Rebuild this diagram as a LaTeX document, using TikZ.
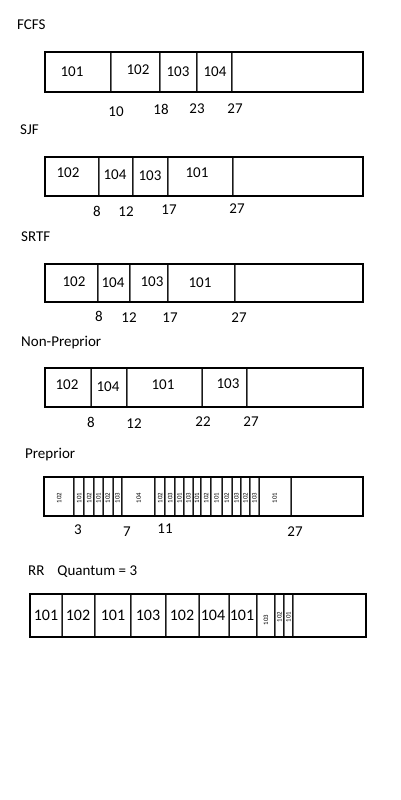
\documentclass[tikz,border=0pt]{standalone}
\usepackage{fontspec}
\setmainfont{Carlito}
\begin{document}
\begin{tikzpicture}[x=1pt,y=-1pt,
  box/.style={draw=black,line width=2.7pt},
  div/.style={draw=black!90,line width=0.7pt,double=black!55,double distance=0.6pt},
  lbl/.style={font=\fontsize{15}{18}\selectfont,inner sep=0pt},
  big/.style={font=\fontsize{16}{19}\selectfont,inner sep=0pt},
  ttl/.style={font=\fontsize{15}{18}\selectfont,inner sep=0pt,anchor=west},
  tiny/.style={font=\fontsize{6.8}{8}\selectfont,inner sep=0pt,rotate=90}]
\fill[white] (0,0) rectangle (400,800);
\useasboundingbox (0,0) rectangle (400,800);

% ---------- FCFS ----------
\node[ttl] (tfcfs) at (17,25) {FCFS};
\foreach \x in {111,160,197,232} \draw[div] (\x,52) -- (\x,92);
\draw[box] (45,52) rectangle (363,92);
\foreach \x/\y/\t [count=\i] in {72/72/101,138/70/102,178/72/103,215/72/104}
  \node[lbl] (fl\i) at (\x,\y) {\t};
\foreach \x/\y/\t [count=\i] in {116/112/10,161/109/18,197/109/23,235/109/27}
  \node[lbl] (fn\i) at (\x,\y) {\t};

% ---------- SJF ----------
\node[ttl] (tsjf) at (20,130) {SJF};
\foreach \x in {99,133,168,233} \draw[div] (\x,157) -- (\x,196);
\draw[box] (45,157) rectangle (363,196);
\foreach \x/\y/\t [count=\i] in {68/173/102,115/175/104,150/176/103,197/173/101}
  \node[lbl] (sl\i) at (\x,\y) {\t};
\foreach \x/\y/\t [count=\i] in {97/211/8,126/212/12,169/210/17,237/209/27}
  \node[lbl] (sn\i) at (\x,\y) {\t};

% ---------- SRTF ----------
\node[ttl] (tsrtf) at (21,237) {SRTF};
\foreach \x in {98,130,168,235} \draw[div] (\x,264) -- (\x,302);
\draw[box] (45,264) rectangle (363,302);
\foreach \x/\y/\t [count=\i] in {74/282/102,113/283/104,152/282/103,200/283/101}
  \node[lbl] (rl\i) at (\x,\y) {\t};
\foreach \x/\y/\t [count=\i] in {99/316/8,129/318/12,170/318/17,239/318/27}
  \node[lbl] (rn\i) at (\x,\y) {\t};

% ---------- Non-Preprior ----------
\node[ttl] (tnp) at (21,343) {Non-Preprior};
\foreach \x in {90.5,127,201.5,247} \draw[div] (\x,368) -- (\x,407);
\draw[box] (45,368) rectangle (363,407);
\foreach \x/\y/\t [count=\i] in {67/385/102,108/387/104,163/385/101,228/384/103}
  \node[lbl] (nl\i) at (\x,\y) {\t};
\foreach \x/\y/\t [count=\i] in {91/422/8,134/424/12,203/422/22,251/422/27}
  \node[lbl] (nn\i) at (\x,\y) {\t};

% ---------- Preprior ----------
\node[ttl] (tpp) at (25,455) {Preprior};
\foreach \x in {74.3,84.3,94,102.7,112.7,122.3,155,165.3,175,184,192.7,201.3,211.3,221.7,231.7,241,250,258.7,290.7}
  \draw[div] (\x,477) -- (\x,516);
\draw[box] (44,477) rectangle (363,516);
\foreach \a/\b/\t [count=\i] in {44/74.3/102,74.3/84.3/101,84.3/94/102,94/102.7/101,102.7/112.7/102,112.7/122.3/103,122.3/155/104,155/165.3/102,165.3/175/103,175/184/101,184/192.7/103,192.7/201.3/101,201.3/211.3/102,211.3/221.7/101,221.7/231.7/102,231.7/241/103,241/250/102,250/258.7/103,258.7/290.7/101}
  \node[tiny] (pl\i) at ({(\a+\b)/2},498) {\t};
\foreach \x/\y/\t [count=\i] in {78/530/3,127/532/7,165/529/11,295/532/27}
  \node[lbl] (pn\i) at (\x,\y) {\t};

% ---------- RR ----------
\node[ttl] (trr) at (28,572) {RR\hspace{13pt}Quantum = 3};
\foreach \x in {61.5,95,131,166,198.5,228.5,257,275,284,293} \draw[div] (\x,594) -- (\x,637);
\draw[box] (30,594) rectangle (366,637);
\foreach \x/\t [count=\i] in {46/101,78/102,113/101,148/103,182/102,213/104,242/101}
  \node[big] (ql\i) at (\x,615) {\t};
\foreach \x/\y/\t [count=\i] in {266/620/103,279.5/617/102,288.5/617/101}
  \node[tiny] (qs\i) at (\x,\y) {\t};
\end{tikzpicture}
\end{document}
